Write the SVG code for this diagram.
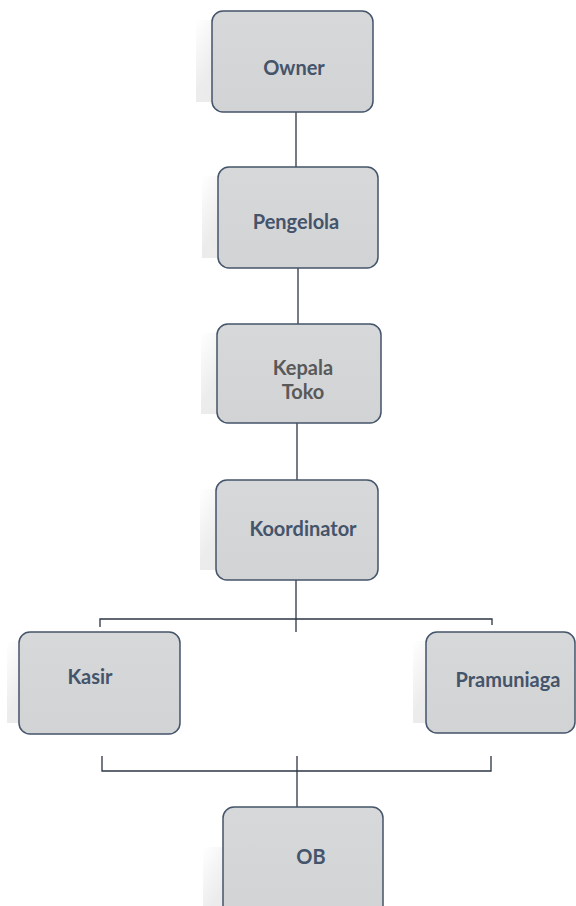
<svg xmlns="http://www.w3.org/2000/svg" width="576" height="906" viewBox="0 0 576 906">
<defs>
<linearGradient id="sh" x1="0" y1="0" x2="1" y2="0.3">
<stop offset="0" stop-color="#ffffff"/>
<stop offset="0.25" stop-color="#ececec"/>
<stop offset="1" stop-color="#e4e4e4"/>
</linearGradient>
<linearGradient id="bx" x1="0" y1="0" x2="0" y2="1">
<stop offset="0" stop-color="#d7d8da"/>
<stop offset="1" stop-color="#d2d3d5"/>
</linearGradient>
</defs>
<style>
.shadow{fill:url(#sh);}
.box{fill:url(#bx);stroke:#44546a;stroke-width:1.5;}
.lbl{font-family:"Lato","Liberation Sans",sans-serif;font-weight:bold;font-size:20px;fill:#44546a;text-anchor:middle;}
.gray{fill:#595959;}
.con{fill:none;stroke:#2c3444;stroke-width:1.3;}
</style>
<rect width="576" height="906" fill="#ffffff"/>
<g id="connectors">
<line class="con" x1="296" y1="112" x2="296" y2="167"/>
<line class="con" x1="298" y1="268" x2="298" y2="324"/>
<line class="con" x1="297" y1="423" x2="297" y2="480"/>
<line class="con" x1="296" y1="580" x2="296" y2="632"/>
<polyline class="con" points="100,627 100,619 492,619 492,625"/>
<polyline class="con" points="102,756 102,771 491,771 491,756"/>
<line class="con" x1="297" y1="756" x2="297" y2="807"/>
</g>
<g id="owner">
<rect class="shadow" x="196" y="20" width="162" height="82"/>
<rect class="box" x="212" y="11" width="161" height="101" rx="11"/>
<text class="lbl" x="294" y="75">Owner</text>
</g>
<g id="pengelola">
<rect class="shadow" x="202" y="176" width="162" height="82"/>
<rect class="box" x="218" y="167" width="160" height="101" rx="11"/>
<text class="lbl" x="296" y="229">Pengelola</text>
</g>
<g id="kepala-toko">
<rect class="shadow" x="201" y="333" width="164" height="81"/>
<rect class="box" x="217" y="324" width="164" height="99" rx="11"/>
<text class="lbl gray" x="303" y="375">Kepala</text>
<text class="lbl gray" x="303" y="399">Toko</text>
</g>
<g id="koordinator">
<rect class="shadow" x="200" y="489" width="162" height="81"/>
<rect class="box" x="216" y="480" width="162" height="100" rx="11"/>
<text class="lbl" x="303" y="536">Koordinator</text>
</g>
<g id="kasir">
<rect class="shadow" x="7" y="641" width="162" height="82"/>
<rect class="box" x="19" y="632" width="161" height="102" rx="11"/>
<text class="lbl" x="90" y="684">Kasir</text>
</g>
<g id="pramuniaga">
<rect class="shadow" x="413" y="641" width="150" height="82"/>
<rect class="box" x="426" y="632" width="149" height="101" rx="11"/>
<text class="lbl" x="508" y="687">Pramuniaga</text>
</g>
<g id="ob">
<rect class="shadow" x="203" y="847" width="162" height="82"/>
<rect class="box" x="223" y="807" width="160" height="110" rx="11"/>
<text class="lbl" x="311" y="864">OB</text>
</g>
</svg>
